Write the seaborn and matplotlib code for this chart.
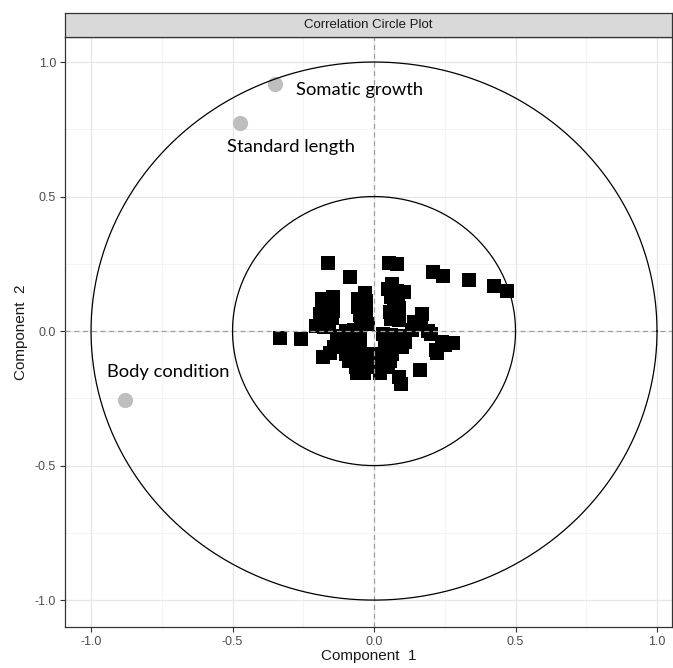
import numpy as np
import pandas as pd
import matplotlib
matplotlib.use("Agg")
import matplotlib.pyplot as plt
import seaborn as sns

# Variable loadings (grey circles)
var_names = ["Somatic growth", "Standard length", "Body condition"]
var_x = [-0.35, -0.473, -0.88]
var_y = [0.918, 0.773, -0.257]

# Sample scores (black squares)
obs_x = [
    # outlying samples
    -0.161, 0.054, 0.082, -0.085, 0.210, 0.245, 0.336, 0.425, 0.469,
    -0.332, -0.259, -0.181, 0.163, 0.094,
    # left group
    -0.145, -0.145, -0.145, -0.150, -0.185, -0.185, -0.190, -0.175, -0.205, -0.175, -0.160,
    # upper centre-left
    -0.032, -0.055, -0.030, -0.055, -0.030, -0.050, -0.028, -0.045, -0.020,
    # upper centre-right
    0.062, 0.050, 0.080, 0.105, 0.060, 0.085, 0.070, 0.090, 0.055, 0.085, 0.060, 0.090,
    # right middle
    0.168, 0.140, 0.165, 0.135, 0.190, 0.200, 0.240, 0.220, 0.250, 0.278, 0.221,
    # lower left
    -0.180, -0.155, -0.140, -0.130, -0.110, -0.130,
    # around the origin
    -0.100, -0.070, -0.050, 0.030, 0.060, 0.090, 0.110, 0.100,
    # lower centre
    -0.100, -0.075, -0.050, 0.040, 0.065,
    -0.110, -0.085, -0.060, 0.040, 0.070,
    -0.100, -0.075, -0.045, -0.020, 0.010, 0.035, 0.065,
    -0.090, -0.060, -0.035, 0.000, 0.030, 0.055,
    -0.065, -0.040, 0.000, 0.025, 0.050,
    -0.060, -0.035, 0.020,
    0.090,
]
obs_y = [
    0.254, 0.254, 0.249, 0.200, 0.218, 0.204, 0.190, 0.168, 0.149,
    -0.025, -0.031, -0.095, -0.145, -0.195,
    0.128, 0.100, 0.075, 0.050, 0.118, 0.090, 0.065, 0.040, 0.018, 0.015, 0.030,
    0.140, 0.118, 0.110, 0.090, 0.080, 0.060, 0.050, 0.030, 0.028,
    0.176, 0.155, 0.150, 0.145, 0.125, 0.120, 0.095, 0.085, 0.070, 0.060, 0.045, 0.040,
    0.063, 0.035, 0.025, 0.005, 0.000, -0.010, -0.040, -0.070, -0.050, -0.043, -0.083,
    -0.095, -0.080, -0.060, -0.020, -0.035, -0.045,
    0.000, 0.005, -0.005, -0.010, -0.015, -0.020, -0.040, -0.060,
    -0.035, -0.035, -0.035, -0.035, -0.035,
    -0.060, -0.060, -0.060, -0.060, -0.060,
    -0.085, -0.085, -0.085, -0.085, -0.085, -0.085, -0.085,
    -0.110, -0.110, -0.110, -0.110, -0.110, -0.110,
    -0.135, -0.135, -0.135, -0.135, -0.135,
    -0.155, -0.155, -0.155,
    -0.170,
]

# Baseline anchors for the variable names
lab_x = [-0.274, -0.520, -0.943]
lab_y = [0.877, 0.664, -0.171]

circle_radii = [1.0, 0.5]
xticks = [-1.0, -0.5, 0.0, 0.5, 1.0]
yticks = [-1.0, -0.5, 0.0, 0.5, 1.0]

sns.set_theme(style="white")
plt.rcParams["font.family"] = ["Liberation Sans", "DejaVu Sans"]

fig = plt.figure(figsize=(6.73, 6.68), dpi=100)
ax = fig.add_axes([65 / 673, 1 - 627 / 668, 607 / 673, 590 / 668])

# Grid
for v in [-0.75, -0.25, 0.25, 0.75]:
    ax.axvline(v, color="#F2F2F2", lw=0.6, zorder=0)
    ax.axhline(v, color="#F2F2F2", lw=0.6, zorder=0)
for v in xticks:
    ax.axvline(v, color="#E6E6E6", lw=0.9, zorder=0)
for v in yticks:
    ax.axhline(v, color="#E6E6E6", lw=0.9, zorder=0)

obs = pd.DataFrame({"x": obs_x, "y": obs_y})
sns.scatterplot(data=obs, x="x", y="y", marker="s", s=92, color="black",
                linewidth=0, ax=ax, zorder=2)

var = pd.DataFrame({"x": var_x, "y": var_y, "name": var_names})
sns.scatterplot(data=var, x="x", y="y", marker="o", s=120, color="#BEBEBE",
                linewidth=0, ax=ax, zorder=2)

# Reference axes and correlation circles on top of the points
ax.axvline(0, color="#A0A0A0", lw=0.9, ls=(0, (4, 3)), zorder=3)
ax.axhline(0, color="#A0A0A0", lw=0.9, ls=(0, (4, 3)), zorder=3)
theta = np.linspace(0, 2 * np.pi, 400)
for r in circle_radii:
    ax.plot(r * np.cos(theta), r * np.sin(theta), color="black", lw=0.9, zorder=3)

for name, tx, ty in zip(var_names, lab_x, lab_y):
    ax.text(tx, ty, name, ha="left", va="baseline", fontsize=13.2,
            family=["Lato", "DejaVu Sans"], color="black", zorder=4)

ax.set_xlim(-1.092, 1.053)
ax.set_ylim(-1.100, 1.093)
ax.set_xticks(xticks)
ax.set_yticks(yticks)
ax.set_xticklabels([f"{t:.1f}" for t in xticks])
ax.set_yticklabels([f"{t:.1f}" for t in yticks])
ax.tick_params(axis="both", direction="out", length=3.5, width=0.8,
               colors="#333333", labelcolor="#4D4D4D", labelsize=9, pad=3,
               bottom=True, left=True)
ax.set_xlabel("Component  1", fontsize=11, color="#1A1A1A", labelpad=1)
ax.set_ylabel("Component  2", fontsize=11, color="#1A1A1A", labelpad=5)
for s in ax.spines.values():
    s.set_color("#333333")
    s.set_linewidth(0.9)

# Facet strip
strip = fig.add_axes([65 / 673, 1 - 37 / 668, 607 / 673, 24 / 668])
strip.set_facecolor("#D9D9D9")
strip.set_xticks([])
strip.set_yticks([])
for s in strip.spines.values():
    s.set_color("#333333")
    s.set_linewidth(0.9)
strip.text(0.5, 0.5, "Correlation Circle Plot", ha="center", va="center",
           fontsize=9.5, color="#1A1A1A", transform=strip.transAxes)

fig.savefig("out.png", dpi=100)
